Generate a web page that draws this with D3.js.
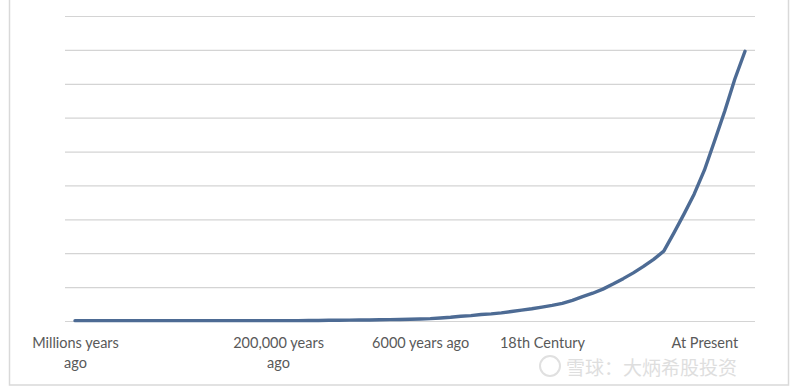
<!DOCTYPE html>
<html>
<head>
<meta charset="utf-8">
<script src="https://cdn.jsdelivr.net/npm/d3@7"></script>
<style>
  body { margin: 0; background: #fff; }
  svg { display: block; }
</style>
</head>
<body>
<div id="chart"></div>
<script>
// one category per slot, only some of them carry a label (like the Excel original)
var labelAt = { 0: "Millions years|ago", 20: "200,000 years|ago", 34: "6000 years ago", 46: "18th Century", 62: "At Present" };
var categories = d3.range(67).map(function (i) { return labelAt[i] || ""; });

// y axis 0..9
var values = [
  0.01, 0.01, 0.01, 0.01, 0.01, 0.01, 0.01, 0.01, 0.01, 0.01,
  0.01, 0.01, 0.01, 0.01, 0.01, 0.01, 0.01, 0.01, 0.01, 0.01,
  0.01, 0.01, 0.01, 0.015, 0.015, 0.02, 0.02, 0.025, 0.03, 0.03,
  0.035, 0.04, 0.045, 0.05, 0.06, 0.07, 0.09, 0.11, 0.14, 0.16,
  0.19, 0.21, 0.24, 0.28, 0.32, 0.36, 0.41, 0.46, 0.52, 0.61,
  0.72, 0.82, 0.94, 1.09, 1.25, 1.42, 1.61, 1.82, 2.06, 2.6,
  3.16, 3.75, 4.45, 5.31, 6.19, 7.14, 7.96
];
var yTicks = [0, 1, 2, 3, 4, 5, 6, 7, 8, 9];

var W = 800, H = 387;
var plot = { left: 65, right: 755, top: 16, bottom: 321 };

var svg = d3.select("#chart")
  .append("svg")
  .attr("width", W)
  .attr("height", H);

// chart area border
svg.append("rect")
  .attr("x", 9.5).attr("y", -5)
  .attr("width", 779).attr("height", 390)
  .attr("fill", "none")
  .attr("stroke", "#d9d9d9")
  .attr("stroke-width", 1.5);

var x = d3.scalePoint()
  .domain(d3.range(categories.length))
  .range([75, 745]);

var y = d3.scaleLinear()
  .domain([0, 9])
  .range([plot.bottom, plot.top]);

// gridlines
svg.append("g")
  .attr("class", "grid")
  .attr("transform", "translate(" + plot.left + ",0)")
  .call(d3.axisLeft(y).tickValues(yTicks).tickSize(-(plot.right - plot.left)).tickFormat(""))
  .call(function (g) {
    g.select(".domain").remove();
    g.selectAll("line").attr("stroke", "#d4d4d4").attr("stroke-width", 1.2);
  });

// faint watermark (drawn under the labels)
var wm = svg.append("g").attr("fill", "#dedede").attr("font-family", "'Noto Sans CJK SC', sans-serif");
wm.append("circle").attr("cx", 550).attr("cy", 366).attr("r", 10)
  .attr("fill", "none").attr("stroke", "#e0e0e0").attr("stroke-width", 2);
wm.append("text").attr("x", 566).attr("y", 375).attr("font-size", "19px").text("雪球：大炳希股投资");
wm.append("text").attr("x", 740).attr("y", 384).attr("font-size", "10px").attr("fill", "#cccccc")
  .attr("text-anchor", "end").text("");

// x labels
var xAxis = svg.append("g")
  .attr("transform", "translate(0," + plot.bottom + ")")
  .call(d3.axisBottom(x).tickSize(0).tickFormat(""));
xAxis.select(".domain").remove();

xAxis.selectAll(".tick")
  .filter(function (i) { return categories[i] !== ""; })
  .append("text")
  .attr("fill", "#595959")
  .attr("font-family", "Lato, 'Open Sans', sans-serif")
  .attr("font-size", "14.5px")
  .attr("text-anchor", "middle")
  .each(function (i) {
    var parts = categories[i].split("|");
    var t = d3.select(this);
    parts.forEach(function (p, k) {
      t.append("tspan").attr("x", 0).attr("y", 27 + k * 20).text(p);
    });
  });

// the line
var line = d3.line()
  .x(function (d, i) { return x(i); })
  .y(function (d) { return y(d); });

svg.append("path")
  .datum(values)
  .attr("fill", "none")
  .attr("stroke", "#4d6b94")
  .attr("stroke-width", 3.4)
  .attr("stroke-linejoin", "round")
  .attr("stroke-linecap", "round")
  .attr("d", line);
</script>
</body>
</html>
